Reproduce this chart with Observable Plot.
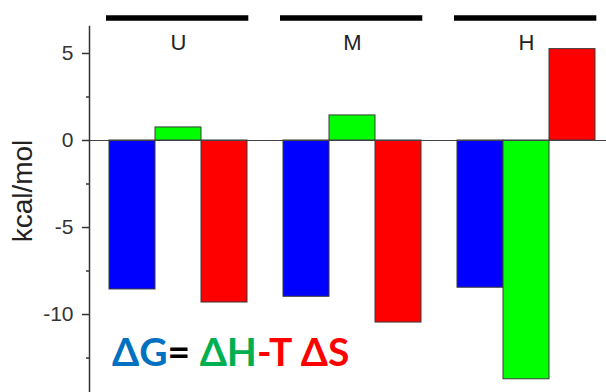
<!DOCTYPE html>
<html><head><meta charset="utf-8">
<script src="https://cdn.jsdelivr.net/npm/d3@7"></script>
<script src="https://cdn.jsdelivr.net/npm/@observablehq/plot@0.6"></script>
<style>
body{margin:0;background:#fff}
#chart{width:606px;height:392px}
</style></head><body><div id="chart"></div>
<script>
// Binding free-energy decomposition per state
const groups = ["U", "M", "H"];
const terms = ["ΔG", "ΔH", "-TΔS"];
const dG = [-8.56, -8.98, -8.46];
const dH = [0.75, 1.44, -13.72];
const mTdS = [-9.31, -10.46, 5.25];
const yTicks = [-10, -5, 0, 5];
const yMinorTicks = [-12.5, -7.5, -2.5, 2.5];
const yDomain = [-14.48, 6.55];
const termColors = ["#0000ff", "#00ff00", "#ff0000"];

const rows = groups.flatMap((g, i) => [
  {group: g, term: terms[0], value: dG[i]},
  {group: g, term: terms[1], value: dH[i]},
  {group: g, term: terms[2], value: mTdS[i]}
]);

const plot = Plot.plot({
  width: 606, height: 392,
  marginLeft: 89, marginRight: 11, marginTop: 26, marginBottom: 0,
  style: {fontFamily: "'Liberation Sans', Arial, sans-serif", background: "#fff", color: "#333", overflow: "visible"},
  fx: {domain: groups, paddingInner: 0.0948, paddingOuter: 0, align: 0, axis: null},
  x: {domain: terms, paddingInner: 0, paddingOuter: 0.1952, align: 1, axis: null},
  y: {domain: yDomain, axis: null},
  color: {domain: terms, range: termColors},
  marks: [
    Plot.barY(rows, {fx: "group", x: "term", y: "value", fill: "term", stroke: "#3a3a3a", strokeWidth: 1}),
    Plot.ruleY([0], {stroke: "#444", strokeWidth: 1.2, insetRight: -16.6}),
    Plot.frame({anchor: "left", facetAnchor: "left", stroke: "#333", strokeWidth: 1.5}),
    Plot.axisY({ticks: yTicks, tickSize: 7, tickPadding: 9, tickFormat: d => String(d), fontSize: 21, label: null, strokeWidth: 1.5}),
    Plot.axisY({ticks: yMinorTicks, tickSize: 3, text: null, label: null, strokeWidth: 1.5}),
    Plot.ruleY(groups, {fx: d => d, y: () => yDomain[1], dy: -8.5, stroke: "#000", strokeWidth: 5.5, insetLeft: 17, insetRight: -1.3}),
    Plot.text(groups, {fx: d => d, x: () => terms[1], frameAnchor: "top", dy: 16, text: d => d, fontSize: 22, lineAnchor: "middle", fill: "#222"}),
    Plot.text(["kcal/mol"], {frameAnchor: "left", facetAnchor: "left", rotate: -90, dx: -58, dy: -18.5, lineAnchor: "bottom", textAnchor: "middle", fontSize: 28, fill: "#222"})
  ]
});

// Colored equation annotation in the lower left of the plot area
const eq = d3.select(plot).append("text")
  .attr("x", 112).attr("y", plot.scale("y").apply(-13))
  .attr("text-anchor", "start")
  .style("font-family", "Lato, 'Open Sans', sans-serif")
  .style("font-weight", "bold")
  .style("font-size", "39px");
eq.append("tspan").attr("fill", "#0070c0").text("ΔG");
eq.append("tspan").attr("fill", "#000").text("= ");
eq.append("tspan").attr("fill", "#00b050").text("ΔH");
eq.append("tspan").attr("fill", "#ff0000").text("-T ΔS");

document.getElementById("chart").appendChild(plot);
</script>
</body></html>
